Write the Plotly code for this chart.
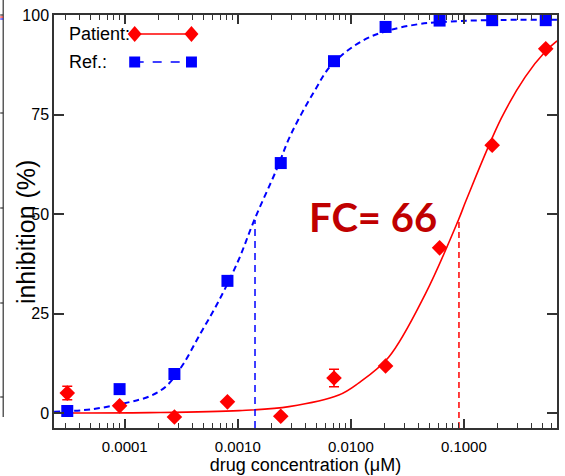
import plotly.graph_objects as go

# ---------------- data ----------------
conc = [3.1e-5, 9.0e-5, 2.75e-4, 8.1e-4, 2.4e-3, 7.1e-3, 2.03e-2, 6.1e-2, 0.178, 0.53]
patient = [5.0, 1.8, -1.0, 2.8, -0.8, 8.8, 11.8, 41.5, 67.3, 91.5]
patient_err = [1.7, 0, 0, 0, 0, 2.2, 0, 0, 0, 0]
ref = [0.5, 6.0, 9.8, 33.2, 62.8, 88.4, 97.0, 98.6, 98.7, 98.7]

# fitted curves
ref_fit_x = [2.37e-5, 5.0e-5, 1.05e-4, 1.66e-4, 2.34e-4, 3.24e-4, 4.57e-4, 6.6e-4, 1.0e-3,
             1.40e-3, 2.19e-3, 2.95e-3, 4.68e-3, 6.76e-3, 1.26e-2, 2.09e-2, 3.98e-2, 6.0e-2,
             0.158, 0.667]
ref_fit_y = [0.3, 0.9, 2.6, 4.2, 6.8, 12.0, 19.5, 27.5, 38.0, 48.5, 61.0, 70.0, 80.5, 87.5,
             93.5, 96.0, 97.7, 98.2, 98.7, 98.8]
pat_fit_x = [2.37e-5, 1.66e-4, 1.03e-3, 2.84e-3, 7.83e-3, 1.17e-2, 2.16e-2, 4.58e-2, 8.95e-2,
             0.105, 0.214, 0.348, 0.533, 0.667]
pat_fit_y = [0.0, 0.1, 0.6, 1.6, 4.5, 7.5, 14.0, 30.0, 48.5, 53.5, 74.0, 84.4, 91.0, 93.5]

ec50_ref = 0.00142
ec50_patient = 0.0905
ec50_level = 48.5
y_min, y_max = -3.77, 100.0

x_tickvals = [1e-4, 1e-3, 1e-2, 1e-1]
x_ticktext = ["0.0001", "0.0010", "0.0100", "0.1000"]
y_tickvals = [0, 25, 50, 75, 100]

RED = "#ff0000"
BLUE = "#0000ff"
AXIS = "#333333"
SANS = "Liberation Sans, Arial"

fig = go.Figure()

# fitted curves
fig.add_trace(go.Scatter(x=pat_fit_x, y=pat_fit_y, mode="lines", line=dict(color=RED, width=1.6, shape="spline"),
                         showlegend=False))
fig.add_trace(go.Scatter(x=ref_fit_x, y=ref_fit_y, mode="lines",
                         line=dict(color=BLUE, width=2, dash="6px,4px", shape="spline"), showlegend=False))
# EC50 lines
fig.add_trace(go.Scatter(x=[ec50_ref, ec50_ref], y=[y_min, ec50_level], mode="lines",
                         line=dict(color=BLUE, width=1.5, dash="7px,5px"), showlegend=False))
fig.add_trace(go.Scatter(x=[ec50_patient, ec50_patient], y=[y_min, ec50_level], mode="lines",
                         line=dict(color=RED, width=1.5, dash="6px,4px"), showlegend=False))
# data points
fig.add_trace(go.Scatter(x=conc, y=ref, mode="markers",
                         marker=dict(symbol="square", size=12, color=BLUE), showlegend=False))
fig.add_trace(go.Scatter(x=conc, y=patient, mode="markers",
                         marker=dict(symbol="diamond", size=12, color=RED),
                         error_y=dict(type="data", array=patient_err, color=RED, thickness=1.5, width=5),
                         showlegend=False))

# ---- layout geometry (pixels) ----
W, H = 565, 476
L, R, T, B = 54, 6, 15, 48
PW, PH = W - L - R, H - T - B


def px(xp):
    return (xp - L) / PW


def py(yp):
    return (H - B - yp) / PH


shapes = []
# legend lines and symbols
for yy, col, dash in [(34, RED, "solid"), (62, BLUE, "dash")]:
    shapes.append(dict(type="line", xref="paper", yref="paper", x0=px(135), x1=px(192), y0=py(yy), y1=py(yy),
                       line=dict(color=col, width=1.6, dash=dash)))
for xc in (135, 192):
    shapes.append(dict(type="path", xref="paper", yref="paper", fillcolor=RED, line=dict(width=0),
                       path=f"M {px(xc-7)} {py(34)} L {px(xc)} {py(34-8)} L {px(xc+7)} {py(34)} L {px(xc)} {py(34+8)} Z"))
    shapes.append(dict(type="rect", xref="paper", yref="paper", fillcolor=BLUE, line=dict(width=0),
                       x0=px(xc - 5.5), x1=px(xc + 5.5), y0=py(62 + 5.5), y1=py(62 - 5.5)))

# fragment of neighbouring chart on the far left
shapes.append(dict(type="line", xref="paper", yref="paper", x0=px(3), x1=px(3), y0=py(0), y1=py(417),
                   line=dict(color=AXIS, width=1.2)))
for yy in (15, 113, 208, 303, 397):
    shapes.append(dict(type="line", xref="paper", yref="paper", x0=px(0), x1=px(3), y0=py(yy), y1=py(yy),
                       line=dict(color=AXIS, width=1.2)))
shapes.append(dict(type="line", xref="paper", yref="paper", x0=px(0), x1=px(3), y0=py(17), y1=py(17),
                   line=dict(color=RED, width=1)))
shapes.append(dict(type="line", xref="paper", yref="paper", x0=px(0), x1=px(3), y0=py(19), y1=py(19),
                   line=dict(color=BLUE, width=1)))

annotations = [
    dict(text="Patient:", x=px(67), y=py(34), xref="paper", yref="paper", xanchor="left", yanchor="middle",
         showarrow=False, font=dict(family=SANS, size=18, color="black")),
    dict(text="Ref.:", x=px(67), y=py(62), xref="paper", yref="paper", xanchor="left", yanchor="middle",
         showarrow=False, font=dict(family=SANS, size=18, color="black")),
    dict(text="<b>FC= 66</b>", x=px(374), y=py(217), xref="paper", yref="paper", xanchor="center",
         yanchor="middle", showarrow=False, font=dict(family="Lato", size=40, color="#c00000")),
    dict(text="inhibition (%)", x=px(26), y=py(232), xref="paper", yref="paper", xanchor="center",
         yanchor="middle", textangle=-90, showarrow=False,
         font=dict(family=SANS, size=25, color="black")),
]

minor_x = [m * 10 ** e for e in range(-5, 1) for m in range(2, 10)]

fig.update_layout(
    width=W, height=H, margin=dict(l=L, r=R, t=T, b=B),
    plot_bgcolor="white", paper_bgcolor="white",
    shapes=shapes, annotations=annotations, showlegend=False,
    xaxis=dict(type="log", range=[-4.626, -0.176], tickvals=x_tickvals, ticktext=x_ticktext,
               ticks="inside", ticklen=9, tickwidth=1.5, tickcolor=AXIS, ticklabelstandoff=4,
               showline=True, linecolor=AXIS, linewidth=1.5, mirror="allticks", showgrid=False, zeroline=False,
               minor=dict(tickvals=minor_x, ticks="inside", ticklen=5, tickwidth=1.2, tickcolor=AXIS, showgrid=False),
               tickfont=dict(family=SANS, size=15, color="black"),
               title=dict(text="drug concentration (μM)", font=dict(family=SANS, size=18, color="black"),
                          standoff=2)),
    yaxis=dict(range=[y_min, y_max], tickvals=y_tickvals, ticks="inside", ticklen=10, tickwidth=1.5,
               tickcolor=AXIS, showline=True, linecolor=AXIS, linewidth=1.5, mirror="allticks",
               showgrid=False, zeroline=False, tickfont=dict(family=SANS, size=16, color="black")),
)

fig.write_html("out.html")
